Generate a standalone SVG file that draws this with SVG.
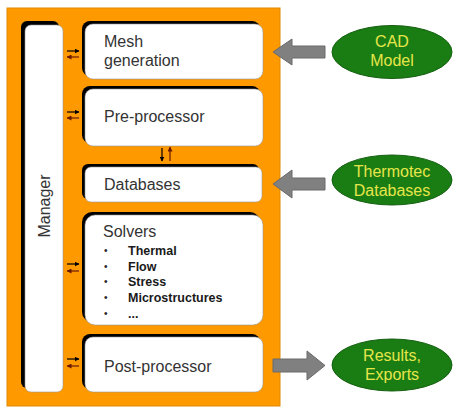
<svg xmlns="http://www.w3.org/2000/svg" width="460" height="415" viewBox="0 0 460 415">
<style>
.sh{fill:#000}
.bx{fill:#fff;stroke:#999;stroke-width:0.6}
.t{font-family:"Liberation Sans",Arial,sans-serif;font-size:16px;fill:#333}
.b{font-family:"Liberation Sans",Arial,sans-serif;font-size:12.5px;font-weight:bold;fill:#1a1a1a}
.d{font-family:"Liberation Sans",Arial,sans-serif;font-size:10px;fill:#222}
.el{fill:#1a7d14;stroke:#145f10;stroke-width:1}
.et{font-family:"Liberation Sans",Arial,sans-serif;font-size:16px;fill:#e6e64a;text-anchor:middle}
.ga{fill:#808080;stroke:#6a6a6a;stroke-width:1}
.sa{stroke-width:1.2;fill:none}
</style>
<defs>
<marker id="hk" markerWidth="5" markerHeight="5" refX="4.5" refY="2.5" orient="auto" markerUnits="userSpaceOnUse"><path d="M0,0 L5,2.5 L0,5 z" fill="#000"/></marker>
<marker id="hr" markerWidth="5" markerHeight="5" refX="4.5" refY="2.5" orient="auto" markerUnits="userSpaceOnUse"><path d="M0,0 L5,2.5 L0,5 z" fill="#6a1a00"/></marker>
</defs>
<rect width="460" height="415" fill="#fff"/>
<rect id="frame" x="7" y="8" width="273" height="398" fill="#ff9900" stroke="#e08a00" stroke-width="1"/>

<g id="manager">
<rect class="sh" x="21" y="21" width="38" height="367" rx="6"/>
<rect class="bx" x="25" y="25" width="38" height="367" rx="6"/>
<text class="t" text-anchor="middle" transform="translate(50,206) rotate(-90)">Manager</text>
</g>

<g id="mesh">
<rect class="sh" x="82" y="21" width="178" height="55" rx="8"/>
<rect class="bx" x="85" y="24" width="178" height="55" rx="8"/>
<text class="t" x="104" y="47">Mesh</text>
<text class="t" x="104" y="66">generation</text>
</g>

<g id="pre">
<rect class="sh" x="82" y="86" width="178" height="57" rx="8"/>
<rect class="bx" x="85" y="89" width="178" height="57" rx="8"/>
<text class="t" x="104" y="122">Pre-processor</text>
</g>

<g id="db">
<rect class="sh" x="82" y="164" width="177" height="35" rx="6"/>
<rect class="bx" x="85" y="167" width="177" height="35" rx="6"/>
<text class="t" x="104" y="190">Databases</text>
</g>

<g id="solvers">
<rect class="sh" x="82" y="212" width="178" height="110" rx="10"/>
<rect class="bx" x="85" y="215" width="178" height="110" rx="10"/>
<text class="t" x="103" y="237">Solvers</text>
<g class="d">
<text x="104" y="254">•</text>
<text x="104" y="270">•</text>
<text x="104" y="285">•</text>
<text x="104" y="301">•</text>
<text x="104" y="317">•</text>
</g>
<g class="b">
<text x="128" y="255">Thermal</text>
<text x="128" y="271">Flow</text>
<text x="128" y="286">Stress</text>
<text x="128" y="302">Microstructures</text>
<text x="128" y="318">...</text>
</g>
</g>

<g id="post">
<rect class="sh" x="82" y="334" width="178" height="55" rx="8"/>
<rect class="bx" x="85" y="337" width="178" height="55" rx="8"/>
<text class="t" x="104" y="372">Post-processor</text>
</g>

<g id="cad">
<ellipse class="el" cx="392" cy="52" rx="60" ry="26.5"/>
<text class="et" x="392" y="47">CAD</text>
<text class="et" x="392" y="66">Model</text>
</g>

<g id="thermotec">
<ellipse class="el" cx="392" cy="180" rx="60" ry="25"/>
<text class="et" x="392" y="177">Thermotec</text>
<text class="et" x="392" y="196">Databases</text>
</g>

<g id="results">
<ellipse class="el" cx="392" cy="365" rx="60" ry="26"/>
<text class="et" x="392" y="361">Results,</text>
<text class="et" x="392" y="380">Exports</text>
</g>

<g id="connectors">
<path class="ga" d="M325,46 L292,46 L292,39 L273,52 L292,65 L292,58 L325,58 z"/>
<path class="ga" d="M325,178 L292,178 L292,170 L273,184 L292,198 L292,190 L325,190 z"/>
<path class="ga" d="M273,359 L307,359 L307,351 L325,365.5 L307,380 L307,372 L273,372 z"/>

<g class="sa">
<line x1="67" y1="51" x2="79" y2="51" stroke="#000" marker-end="url(#hk)"/>
<line x1="79" y1="57" x2="67" y2="57" stroke="#6a1a00" marker-end="url(#hr)"/>
<line x1="67" y1="112" x2="79" y2="112" stroke="#000" marker-end="url(#hk)"/>
<line x1="79" y1="118" x2="67" y2="118" stroke="#6a1a00" marker-end="url(#hr)"/>
<line x1="67" y1="264" x2="79" y2="264" stroke="#000" marker-end="url(#hk)"/>
<line x1="79" y1="271" x2="67" y2="271" stroke="#6a1a00" marker-end="url(#hr)"/>
<line x1="67" y1="359" x2="79" y2="359" stroke="#000" marker-end="url(#hk)"/>
<line x1="79" y1="366" x2="67" y2="366" stroke="#6a1a00" marker-end="url(#hr)"/>
<line x1="162" y1="148" x2="162" y2="161" stroke="#000" marker-end="url(#hk)"/>
<line x1="170" y1="161" x2="170" y2="147" stroke="#6a1a00" marker-end="url(#hr)"/>
</g>
</g>
</svg>
